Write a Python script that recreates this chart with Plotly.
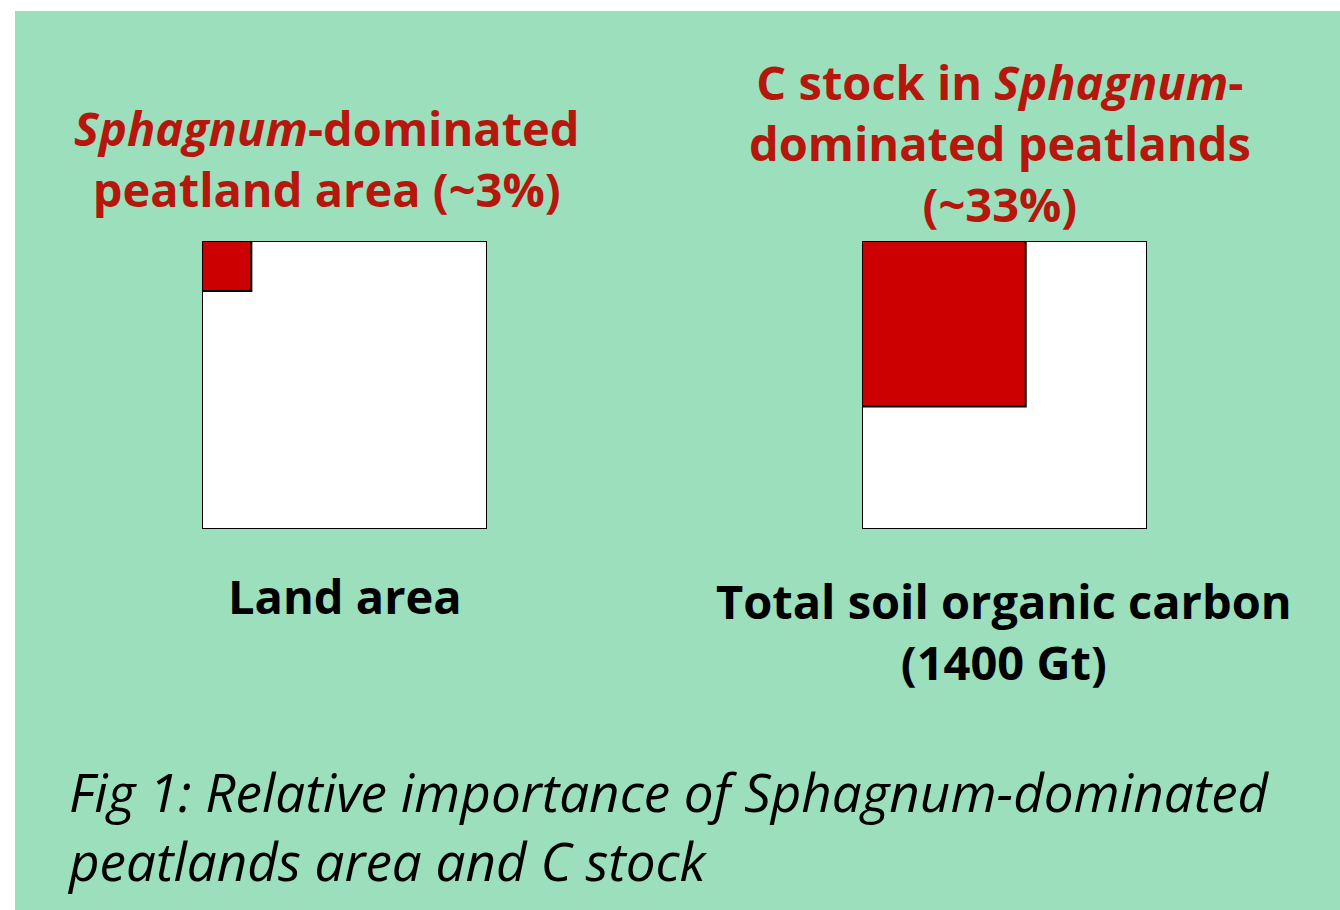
import plotly.graph_objects as go

# ---- data ----
panels = ["Land area", "Total soil organic carbon"]
panel_sub = ["", "(1400 Gt)"]
sphagnum_share = [0.03, 0.33]          # fraction of the whole square
share_labels = ["~3%", "~33%"]
title_lines = [
    ["<i>Sphagnum</i>-dominated", "peatland area (~3%)"],
    ["C stock in <i>Sphagnum</i>-", "dominated peatlands", "(~33%)"],
]
caption_lines = ["Fig 1: Relative importance of Sphagnum-dominated",
                 "peatlands area and C stock"]

W, H = 1340, 910
GREEN = "#9BDFBD"
RED_BOX = "#CC0000"
RED_TXT = "#B5170D"
TFONT = "Open Sans"

def px(x):
    return x / W

def py(y):
    return 1 - y / H

fig = go.Figure()

# background green panel
fig.add_shape(type="rect", xref="paper", yref="paper",
              x0=px(15), x1=1.0, y0=0.0, y1=py(11),
              fillcolor=GREEN, line_width=0, layer="below")

box_x = [(202, 487), (862, 1147)]
box_y = (241, 529)

for i, share in enumerate(sphagnum_share):
    xa = "x" if i == 0 else f"x{i+1}"
    ya = "y" if i == 0 else f"y{i+1}"
    side = share ** 0.5
    # whole square
    fig.add_trace(go.Scatter(x=[0, 1, 1, 0, 0], y=[0, 0, 1, 1, 0],
                             fill="toself", fillcolor="white", mode="lines",
                             line=dict(color="black", width=2),
                             xaxis=xa, yaxis=ya, hoverinfo="skip", showlegend=False))
    # Sphagnum share, anchored at top-left corner
    fig.add_trace(go.Scatter(x=[0, side, side, 0, 0],
                             y=[1, 1, 1 - side, 1 - side, 1],
                             fill="toself", fillcolor=RED_BOX, mode="lines",
                             line=dict(color="black", width=2),
                             xaxis=xa, yaxis=ya, hoverinfo="skip", showlegend=False,
                             name=share_labels[i]))

axis_common = dict(range=[0, 1], visible=False, fixedrange=True)
fig.update_layout(
    xaxis=dict(domain=[px(box_x[0][0]), px(box_x[0][1])], anchor="y", **axis_common),
    yaxis=dict(domain=[py(box_y[1]), py(box_y[0])], anchor="x", **axis_common),
    xaxis2=dict(domain=[px(box_x[1][0]), px(box_x[1][1])], anchor="y2", **axis_common),
    yaxis2=dict(domain=[py(box_y[1]), py(box_y[0])], anchor="x2", **axis_common),
)

annotations = []

def add_block(lines, x, y, size, color, family, xanchor="center", align="center", bold=True):
    text = "<br>".join(f"<b>{l}</b>" if bold else l for l in lines)
    annotations.append(dict(
        text=text, x=px(x), y=py(y), xref="paper", yref="paper",
        xanchor=xanchor, yanchor="middle", align=align, showarrow=False,
        font=dict(size=size, color=color, family=family)))

# titles (block centres)
title_cx = [327, 1000]
title_cy = [158, 143]
for i, lines in enumerate(title_lines):
    add_block(lines, title_cx[i], title_cy[i], 47, RED_TXT, TFONT)

# panel labels
label_cx = [345, 1004]
label_cy = [596, 631]
for i, name in enumerate(panels):
    lines = [name] + ([panel_sub[i]] if panel_sub[i] else [])
    add_block(lines, label_cx[i], label_cy[i], 47, "black", TFONT)

# caption
add_block([f"<i>{l}</i>" for l in caption_lines], 65, 826, 53, "black", "Open Sans",
          xanchor="left", align="left", bold=False)

fig.update_layout(
    width=W, height=H, margin=dict(l=0, r=0, t=0, b=0),
    paper_bgcolor="white", plot_bgcolor="rgba(0,0,0,0)",
    showlegend=False, annotations=annotations,
)

fig.write_html("out.html", config={"displayModeBar": False},
               post_script="document.body.style.margin='0px';document.body.style.overflow='hidden';")
